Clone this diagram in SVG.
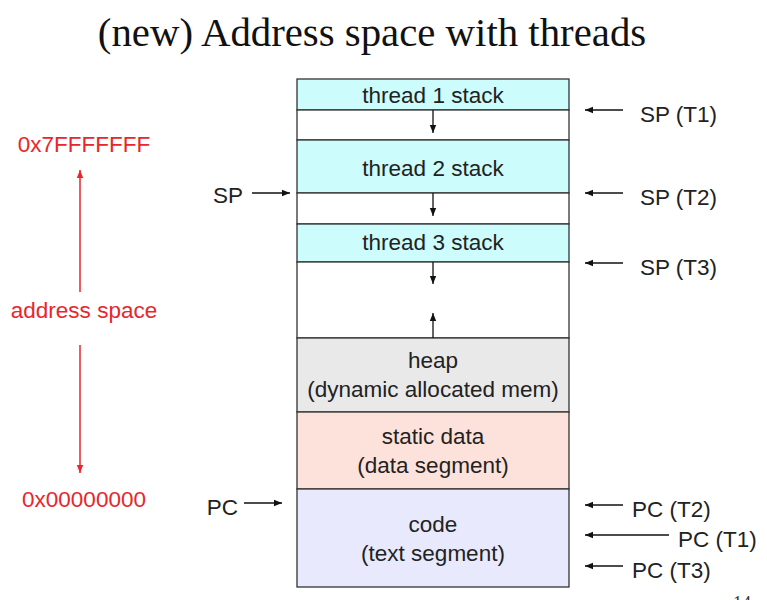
<svg xmlns="http://www.w3.org/2000/svg" width="767" height="600" viewBox="0 0 767 600">
<style>
.t{font-family:"Liberation Sans",Arial,sans-serif;font-size:22.5px;fill:#222}
.c{text-anchor:middle}
.r{fill:#e8262b}
.band{stroke:#333;stroke-width:1.3}
.ln{stroke:#111;stroke-width:1.3;fill:none}
.rl{stroke:#e8262b;stroke-width:1.5;fill:none}
</style>
<defs>
<marker id="ah" viewBox="0 0 10 10" refX="10" refY="5" markerWidth="8" markerHeight="8" markerUnits="userSpaceOnUse" orient="auto"><path d="M0,1 L10,5 L0,9 z" fill="#111"/></marker>
<marker id="ahr" viewBox="0 0 10 10" refX="10" refY="5" markerWidth="8" markerHeight="8" markerUnits="userSpaceOnUse" orient="auto"><path d="M0,1 L10,5 L0,9 z" fill="#e8262b"/></marker>
</defs>
<rect width="767" height="600" fill="#fff"/>
<text x="372" y="46" text-anchor="middle" style="font-family:'Liberation Serif','Times New Roman',serif;font-size:40.8px;fill:#111">(new) Address space with threads</text>

<g id="t1stack"><rect class="band" x="297" y="79" width="272" height="31" fill="#ccfcfc"/><text class="t c" x="433" y="103">thread 1 stack</text></g>
<g id="gap1"><rect class="band" x="297" y="110" width="272" height="30" fill="#fff"/></g>
<g id="t2stack"><rect class="band" x="297" y="140" width="272" height="53" fill="#ccfcfc"/><text class="t c" x="433" y="176">thread 2 stack</text></g>
<g id="gap2"><rect class="band" x="297" y="193" width="272" height="31" fill="#fff"/></g>
<g id="t3stack"><rect class="band" x="297" y="224" width="272" height="38" fill="#ccfcfc"/><text class="t c" x="433" y="250">thread 3 stack</text></g>
<g id="gap3"><rect class="band" x="297" y="262" width="272" height="76" fill="#fff"/></g>
<g id="heap"><rect class="band" x="297" y="338" width="272" height="74" fill="#e9e9e9"/><text class="t c" x="433" y="368">heap</text><text class="t c" x="433" y="397">(dynamic allocated mem)</text></g>
<g id="static"><rect class="band" x="297" y="412" width="272" height="77" fill="#fde2dc"/><text class="t c" x="433" y="444">static data</text><text class="t c" x="433" y="473">(data segment)</text></g>
<g id="code"><rect class="band" x="297" y="489" width="272" height="98" fill="#e8e9fc"/><text class="t c" x="433" y="532">code</text><text class="t c" x="433" y="561">(text segment)</text></g>

<g id="labels">
<text class="t" x="640" y="122">SP (T1)</text>
<text class="t" x="640" y="205">SP (T2)</text>
<text class="t" x="640" y="275">SP (T3)</text>
<text class="t" x="632" y="517">PC (T2)</text>
<text class="t" x="678" y="547">PC (T1)</text>
<text class="t" x="632" y="578">PC (T3)</text>
<text class="t" x="243" y="203" text-anchor="end">SP</text>
<text class="t" x="238" y="515" text-anchor="end">PC</text>
<text class="t r c" x="84" y="152">0x7FFFFFFF</text>
<text class="t r c" x="84" y="318">address space</text>
<text class="t r c" x="84" y="507">0x00000000</text>
<text x="742" y="609" text-anchor="middle" style="font-family:'Liberation Serif',serif;font-size:18px;fill:#333">14</text>
</g>

<g id="connectors">
<line class="ln" x1="433" y1="110" x2="433" y2="133" marker-end="url(#ah)"/>
<line class="ln" x1="433" y1="193" x2="433" y2="216" marker-end="url(#ah)"/>
<line class="ln" x1="433" y1="262" x2="433" y2="284" marker-end="url(#ah)"/>
<line class="ln" x1="433" y1="338" x2="433" y2="313" marker-end="url(#ah)"/>
<line class="ln" x1="623" y1="110" x2="585" y2="110" marker-end="url(#ah)"/>
<line class="ln" x1="623" y1="193" x2="585" y2="193" marker-end="url(#ah)"/>
<line class="ln" x1="623" y1="263" x2="585" y2="263" marker-end="url(#ah)"/>
<line class="ln" x1="623" y1="505" x2="585" y2="505" marker-end="url(#ah)"/>
<line class="ln" x1="669" y1="535" x2="585" y2="535" marker-end="url(#ah)"/>
<line class="ln" x1="623" y1="566" x2="585" y2="566" marker-end="url(#ah)"/>
<line class="ln" x1="252" y1="193" x2="290" y2="193" marker-end="url(#ah)"/>
<line class="ln" x1="244" y1="503" x2="282" y2="503" marker-end="url(#ah)"/>
<line class="rl" x1="80" y1="292" x2="80" y2="170" marker-end="url(#ahr)"/>
<line class="rl" x1="80" y1="345" x2="80" y2="473" marker-end="url(#ahr)"/>
</g>
</svg>
